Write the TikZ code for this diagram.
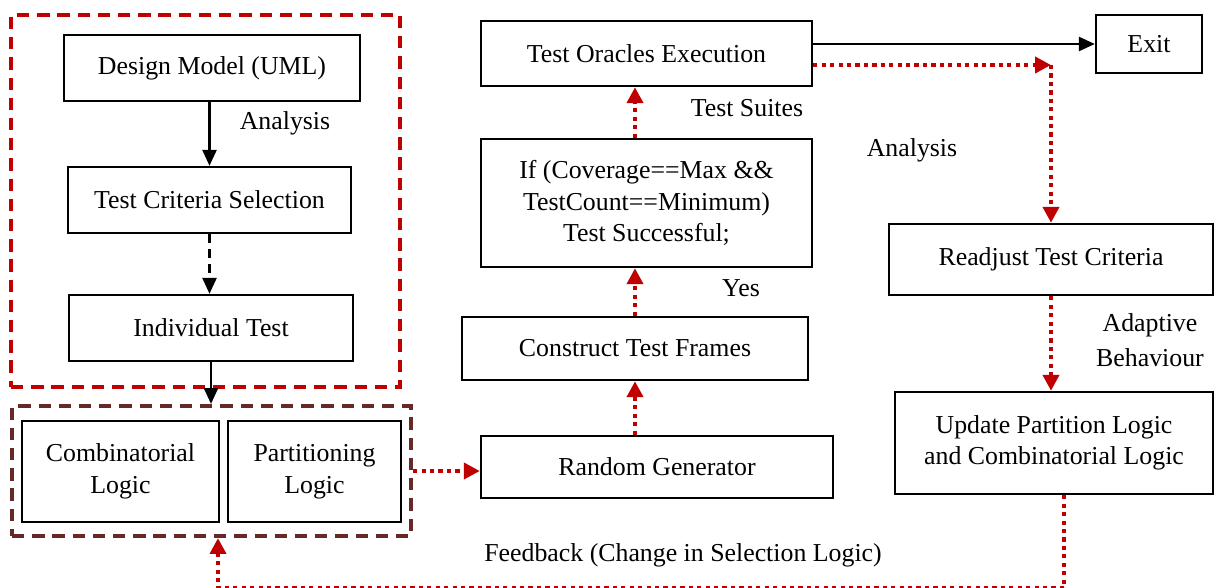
\documentclass[tikz,border=0pt]{standalone}
\usepackage{fontspec}
\setmainfont{Liberation Serif}
\usetikzlibrary{arrows.meta,calc}
\definecolor{flowred}{HTML}{C00000}
\definecolor{framebrown}{HTML}{682828}

\begin{document}
\begin{tikzpicture}[font=\fontsize{14.7}{18}\selectfont,
    box/.style={draw=black, line width=1.4pt, inner sep=2pt, align=center},
    groupframe/.style={draw=#1, line width=2.4pt, dash pattern=on 7pt off 4.5pt, inner sep=0pt},
    flow/.style={draw=flowred, line width=2.6pt, dash pattern=on 2.4pt off 2.4pt, -{Triangle[length=9pt,width=9pt]}},
    plainflow/.style={draw=black, line width=1.2pt, -{Triangle[length=9pt,width=8pt]}},
    lbl/.style={inner sep=0pt, align=center}]

\useasboundingbox (0,0) rectangle (24.3,-11.76);

\node[groupframe=flowred, minimum width=7.78cm, minimum height=7.44cm] (modelgroup) at (4.11,-4.02) {};
\node[groupframe=framebrown, minimum width=7.98cm, minimum height=2.6cm] (logicgroup) at (4.23,-9.42) {};

\node[box, minimum width=5.92cm, minimum height=1.32cm] (design) at (4.24,-1.36) {Design Model (UML)};
\node[box, minimum width=5.66cm, minimum height=1.32cm] (criteria) at (4.19,-4.0) {Test Criteria Selection};
\node[box, minimum width=5.68cm, minimum height=1.32cm] (indiv) at (4.22,-6.56) {Individual Test};
\node[box, minimum width=3.94cm, minimum height=2.02cm] (comb) at (2.41,-9.43) {Combinatorial\\Logic};
\node[box, minimum width=3.46cm, minimum height=2.02cm] (part) at (6.29,-9.43) {Partitioning\\Logic};

\node[box, minimum width=7.04cm, minimum height=1.24cm] (randgen) at (13.14,-9.34) {Random Generator};
\node[box, minimum width=6.92cm, minimum height=1.26cm] (frames) at (12.7,-6.97) {Construct Test Frames};
\node[box, minimum width=6.62cm, minimum height=2.56cm] (cond) at (12.93,-4.06) {If (Coverage==Max \&\&\\TestCount==Minimum)\\Test Successful;};
\node[box, minimum width=6.62cm, minimum height=1.3cm] (oracle) at (12.93,-1.07) {Test Oracles Execution};
\node[box, minimum width=2.12cm, minimum height=1.16cm] (exitbox) at (22.98,-0.88) {Exit};
\node[box, minimum width=6.48cm, minimum height=1.42cm] (readjust) at (21.02,-5.19) {Readjust Test Criteria};
\node[box, minimum width=6.36cm, minimum height=2.04cm] (update) at (21.08,-8.86) {Update Partition Logic\\and Combinatorial Logic};

\node[lbl] (analysisleft) at (5.7,-2.46) {Analysis};
\node[lbl] (suites) at (14.94,-2.16) {Test Suites};
\node[lbl] (yes) at (14.82,-5.76) {Yes};
\node[lbl] (analysisright) at (18.24,-3.0) {Analysis};
\node[lbl, font=\fontsize{14.7}{19.8}\selectfont] (adaptive) at (23.0,-6.8) {Adaptive\\Behaviour};
\node[lbl] (feedback) at (13.66,-11.1) {Feedback (Change in Selection Logic)};

\coordinate (turn) at (readjust.north |- 0,-1.3);
\coordinate (fbcorner) at ($(logicgroup.south)+(0.13,-1.0)$);

\draw[plainflow] (criteria.north |- design.south) -- (criteria.north);
\draw[plainflow, dash pattern=on 5pt off 3.5pt] (criteria.south) -- (criteria.south |- indiv.north);
\draw[plainflow] (indiv.south) -- (indiv.south |- logicgroup.north);
\draw[flow] (logicgroup.east) -- (logicgroup.east -| randgen.west);
\draw[flow] (frames.south |- randgen.north) -- (frames.south);
\draw[flow] (frames.north) -- (frames.north |- cond.south);
\draw[flow] (frames.north |- cond.north) -- (frames.north |- oracle.south);
\draw[plainflow] (oracle.east |- exitbox.west) -- (exitbox.west);
\draw[flow] (oracle.east |- turn) -- (turn);
\draw[flow] (turn) -- (readjust.north);
\draw[flow] (readjust.south) -- (readjust.south |- update.north);
\draw[flow] ([xshift=0.2cm]update.south) |- (fbcorner) -- ([xshift=0.13cm]logicgroup.south);
\end{tikzpicture}
\end{document}
